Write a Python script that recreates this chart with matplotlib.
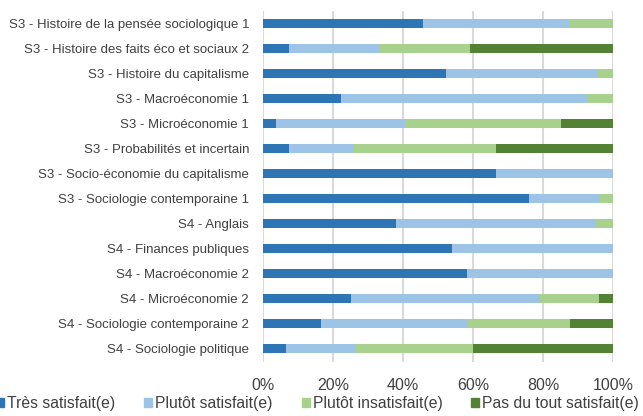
import numpy as np
import matplotlib.pyplot as plt
from matplotlib.patches import Patch

plt.rcParams['font.family'] = ['Liberation Sans', 'DejaVu Sans']
plt.rcParams['font.size'] = 9.5

cours = ['S3 - Histoire de la pensée sociologique 1',
         'S3 - Histoire des faits éco et sociaux 2',
         'S3 - Histoire du capitalisme',
         'S3 - Macroéconomie 1',
         'S3 - Microéconomie 1',
         'S3 - Probabilités et incertain',
         'S3 - Socio-économie du capitalisme',
         'S3 - Sociologie contemporaine 1',
         'S4 - Anglais',
         'S4 - Finances publiques',
         'S4 - Macroéconomie 2',
         'S4 - Microéconomie 2',
         'S4 - Sociologie contemporaine 2',
         'S4 - Sociologie politique']

tres_satisfait = [45.8, 7.4, 52.2, 22.2, 3.7, 7.4, 66.7, 76.0, 38.1, 54.1, 58.3, 25.0, 16.7, 6.7]
plutot_satisfait = [41.7, 25.9, 43.5, 70.4, 37.0, 18.5, 33.3, 20.0, 57.1, 45.9, 41.7, 54.2, 41.7, 20.0]
plutot_insatisfait = [12.5, 25.9, 4.3, 7.4, 44.4, 40.7, 0.0, 4.0, 4.8, 0.0, 0.0, 16.7, 29.2, 33.3]
pas_du_tout = [0.0, 40.7, 0.0, 0.0, 14.8, 33.3, 0.0, 0.0, 0.0, 0.0, 0.0, 4.2, 12.5, 40.0]

series = [tres_satisfait, plutot_satisfait, plutot_insatisfait, pas_du_tout]
noms = ['Très satisfait(e)', 'Plutôt satisfait(e)',
        'Plutôt insatisfait(e)', 'Pas du tout satisfait(e)']
couleurs = ['#2E75B6', '#9DC3E6', '#A9D18E', '#548235']

fig = plt.figure(figsize=(6.43, 4.16), dpi=100)
ax = fig.add_axes([263/643., 54.5/416., 350/643., 351/416.])

y = np.arange(len(cours))
left = np.zeros(len(cours))
for vals, col in zip(series, couleurs):
    vals = np.array(vals)
    ax.barh(y, vals, left=left, height=0.36, color=col, zorder=3)
    left += vals

ax.set_ylim(len(cours) - 0.5, -0.5)
ax.set_xlim(0, 100)
ax.set_yticks(y)
ax.set_yticklabels(cours, color='#404040')
ax.set_xticks([0, 20, 40, 60, 80, 100])
ax.set_xticklabels(['0%', '20%', '40%', '60%', '80%', '100%'], color='#404040',
                   fontsize=11.5)
ax.tick_params(axis='both', length=0)
ax.tick_params(axis='y', pad=10)
ax.tick_params(axis='x', pad=12)
ax.grid(axis='x', color='#D9D9D9', linewidth=1.5, zorder=0)
for s in ax.spines.values():
    s.set_visible(False)

handles = [Patch(color=c, label=n) for c, n in zip(couleurs, noms)]
fig.legend(handles=handles, loc='lower center', ncol=4, frameon=False,
           bbox_to_anchor=(0.494, -0.015), fontsize=11.3, handlelength=0.5,
           handleheight=0.5, handletextpad=0.2, columnspacing=1.85,
           labelcolor='#404040', borderpad=0.2)

fig.savefig('out.png', dpi=100)
